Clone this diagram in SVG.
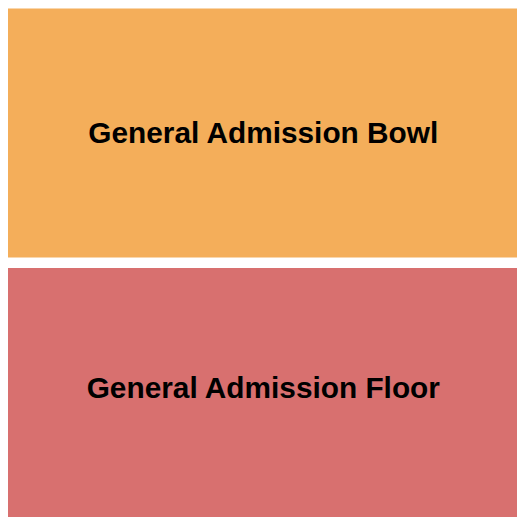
<svg xmlns="http://www.w3.org/2000/svg" width="525" height="525" viewBox="0 0 525 525">
<style>
.lbl{font-family:"Liberation Sans",Arial,sans-serif;font-weight:bold;font-size:29.8px;fill:#000;text-anchor:middle}
</style>
<rect width="525" height="525" fill="#fff"/>
<g id="bowl">
<rect x="8" y="8.5" width="509" height="249" fill="#F4AE5A"/>
<text class="lbl" x="263.3" y="143.3">General Admission Bowl</text>
</g>
<g id="floor">
<rect x="8" y="268" width="509" height="249" fill="#D8706F"/>
<text class="lbl" x="263.3" y="398.3">General Admission Floor</text>
</g>
<g id="connectors"/>
</svg>
